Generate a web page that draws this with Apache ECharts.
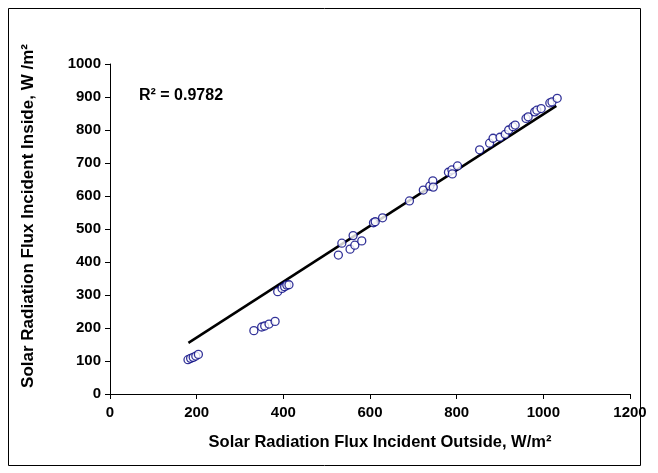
<!DOCTYPE html>
<html>
<head>
<meta charset="utf-8">
<script src="https://cdn.jsdelivr.net/npm/echarts@6/dist/echarts.min.js"></script>
<style>
  html, body { margin: 0; padding: 0; background: #fff; }
  #chart { width: 658px; height: 473px; }
</style>
</head>
<body>
<div id="chart"></div>
<script>
// measured points, W/m2
var outsideFlux = [180, 186, 192, 198, 204,
  332, 350, 357, 367, 381,
  387, 397, 403, 408, 413,
  527, 535, 554, 561, 565, 581, 608, 612, 629, 691,
  723, 738, 745, 746, 781, 789, 790, 802,
  853, 876, 884, 900, 912, 920, 930, 935, 960, 965, 980, 985, 995, 1015, 1020, 1032];
var insideFlux = [104, 108, 111, 115, 120,
  192, 203, 206, 212, 220,
  310, 320, 325, 330, 331,
  421, 457, 439, 480, 451, 464, 519, 522, 534, 585,
  618, 630, 646, 627, 672, 679, 667, 691,
  740, 760, 775, 778, 787, 800, 810, 815, 835, 840, 855, 860, 865, 882, 885, 896];

// linear trendline ends
var trendX = [181, 1030];
var trendY = [155, 873];

var xTicks = [0, 200, 400, 600, 800, 1000, 1200];
var yTicks = [0, 100, 200, 300, 400, 500, 600, 700, 800, 900, 1000];

var points = outsideFlux.map(function (x, i) { return [x, insideFlux[i]]; });
var trend = trendX.map(function (x, i) { return [x, trendY[i]]; });

var font = 'Liberation Sans, Arial, sans-serif';
var plain = function (v) { return String(v); };

var myChart = echarts.init(document.getElementById('chart'));
myChart.setOption({
  animation: false,
  backgroundColor: '#fff',
  grid: { left: 110, right: 28, top: 64, bottom: 79 },
  graphic: [
    {
      type: 'rect',
      shape: { x: 8.5, y: 8.5, width: 632, height: 457 },
      style: { fill: 'none', stroke: '#000', lineWidth: 1 }
    },
    {
      type: 'text',
      left: 139, top: 88,
      style: { text: 'R² = 0.9782', font: 'bold 16px ' + font, fill: '#000' }
    },
    {
      type: 'text',
      x: 380, y: 442,
      style: {
        text: 'Solar Radiation Flux Incident Outside, W/m²',
        font: 'bold 16.5px ' + font, fill: '#000', align: 'center', verticalAlign: 'middle'
      }
    },
    {
      type: 'text',
      x: 28, y: 216, rotation: Math.PI / 2,
      style: {
        text: 'Solar Radiation Flux Incident Inside, W /m²',
        font: 'bold 17px ' + font, fill: '#000', align: 'center', verticalAlign: 'middle'
      }
    }
  ],
  xAxis: {
    type: 'value',
    min: xTicks[0], max: xTicks[xTicks.length - 1], interval: 200,
    axisLine: { lineStyle: { color: '#000', width: 1 } },
    axisTick: { length: 5, lineStyle: { color: '#000' } },
    axisLabel: { fontFamily: font, fontWeight: 'bold', fontSize: 15, color: '#000', margin: 11, formatter: plain },
    splitLine: { show: false }
  },
  yAxis: {
    type: 'value',
    min: yTicks[0], max: yTicks[yTicks.length - 1], interval: 100,
    axisLine: { show: true, lineStyle: { color: '#000', width: 1 } },
    axisTick: { show: true, length: 5, lineStyle: { color: '#000' } },
    axisLabel: { fontFamily: font, fontWeight: 'bold', fontSize: 15, color: '#000', margin: 9, formatter: plain },
    splitLine: { show: false }
  },
  series: [
    {
      type: 'line',
      data: trend,
      symbol: 'none',
      lineStyle: { color: '#000', width: 2.5 },
      z: 2
    },
    {
      type: 'scatter',
      data: points,
      symbol: 'circle',
      symbolSize: 8,
      itemStyle: { color: '#fff', borderColor: '#000080', borderWidth: 1.3 },
      z: 3
    }
  ]
});
</script>
</body>
</html>
